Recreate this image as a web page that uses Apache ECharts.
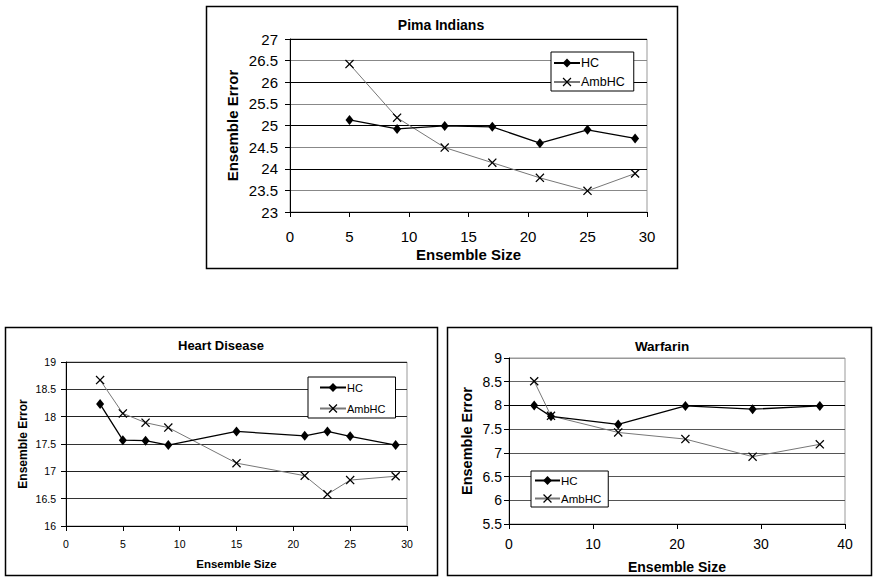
<!DOCTYPE html>
<html>
<head>
<meta charset="utf-8">
<script src="https://cdn.jsdelivr.net/npm/echarts@6/dist/echarts.min.js"></script>
<style>
  html, body { margin: 0; padding: 0; background: #fff; }
  #main { width: 873px; height: 577px; }
</style>
</head>
<body>
<div id="main"></div>
<script>
// Pima Indians
var pimaSizes = [5, 9, 13, 17, 21, 25, 29];
var pimaHC = [25.13, 24.92, 24.99, 24.97, 24.59, 24.9, 24.7];
var pimaAmbHC = [26.42, 25.18, 24.49, 24.14, 23.79, 23.49, 23.89];

// Heart Disease
var heartSizes = [3, 5, 7, 9, 15, 21, 23, 25, 29];
var heartHC = [18.23, 17.57, 17.56, 17.48, 17.73, 17.65, 17.73, 17.64, 17.48];
var heartAmbHC = [18.67, 18.06, 17.89, 17.8, 17.15, 16.92, 16.58, 16.84, 16.91];

// Warfarin
var warfSizes = [3, 5, 13, 21, 29, 37];
var warfHC = [8.0, 7.77, 7.6, 7.99, 7.92, 7.99];
var warfAmbHC = [8.51, 7.78, 7.43, 7.29, 6.92, 7.18];

var seriesNames = ['HC', 'AmbHC'];

var myChart = echarts.init(document.getElementById('main'), null, {renderer: 'svg'});

var FONT = 'Liberation Sans, Arial, sans-serif';
var CROSS = 'path://M0,1L1,0L5,4L9,0L10,1L6,5L10,9L9,10L5,6L1,10L0,9L4,5Z';

function pairs(xs, ys) {
    return xs.map(function (x, i) { return [x, ys[i]]; });
}

function xAx(idx, max, interval, fs, margin, nameFs, nameGap) {
    return {
        gridIndex: idx, type: 'value', min: 0, max: max, interval: interval,
        name: 'Ensemble Size', nameLocation: 'middle', nameGap: nameGap,
        nameTextStyle: {fontWeight: 'bold', fontSize: nameFs, color: '#000'},
        axisLine: {show: true, lineStyle: {color: '#000', width: 1}},
        axisTick: {show: true, inside: false, length: 5, lineStyle: {color: '#000'}},
        axisLabel: {color: '#000', fontSize: fs, margin: margin},
        splitLine: {show: false}
    };
}

function yAx(idx, min, max, fs, margin, nameFs, nameGap, gridColors) {
    return {
        gridIndex: idx, type: 'value', min: min, max: max, interval: 0.5,
        name: 'Ensemble Error', nameLocation: 'middle', nameGap: nameGap,
        nameTextStyle: {fontWeight: 'bold', fontSize: nameFs, color: '#000'},
        axisLine: {show: true, lineStyle: {color: '#000', width: 1}},
        axisTick: {show: true, inside: false, length: 5, lineStyle: {color: '#000'}},
        axisLabel: {color: '#000', fontSize: fs, margin: margin},
        splitLine: {show: true, lineStyle: {color: gridColors, width: 1}}
    };
}

function hcSeries(idx, xs, ys) {
    return {
        name: 'HC', type: 'line', xAxisIndex: idx, yAxisIndex: idx,
        data: pairs(xs, ys), symbol: 'diamond', symbolSize: [8, 10],
        itemStyle: {color: '#000'},
        lineStyle: {color: '#000', width: 1.3},
        animation: false, z: 4
    };
}

function ambSeries(idx, xs, ys) {
    return {
        name: 'AmbHC', type: 'line', xAxisIndex: idx, yAxisIndex: idx,
        data: pairs(xs, ys), symbol: CROSS, symbolSize: 9,
        itemStyle: {color: '#000'},
        lineStyle: {color: '#777', width: 1},
        animation: false, z: 3
    };
}

function legendBox(left, top, fs, lh, pad, gap, iw) {
    return {
        data: seriesNames, orient: 'vertical', left: left, top: top,
        padding: pad, itemGap: gap, itemWidth: iw, itemHeight: 11,
        backgroundColor: '#fff', borderColor: '#000', borderWidth: 1,
        textStyle: {color: '#000', fontSize: fs, lineHeight: lh, fontFamily: FONT, padding: [0, 0, 0, -4]},
        selectedMode: false
    };
}

function titleAt(text, cx, cy, fs) {
    return {
        text: text, left: cx, top: cy, padding: 0,
        textAlign: 'center', textVerticalAlign: 'middle',
        textStyle: {fontSize: fs, fontWeight: 'bold', color: '#000', fontFamily: FONT}
    };
}

var option = {
    backgroundColor: '#fff',
    animation: false,
    textStyle: {fontFamily: FONT},
    title: [
        titleAt('Pima Indians', 441, 25, 14),
        titleAt('Heart Disease', 221, 345, 13),
        titleAt('Warfarin', 662, 346, 13.5)
    ],
    graphic: [
        {type: 'rect', shape: {x: 206.5, y: 6.5, width: 471, height: 262}, style: {fill: null, stroke: '#000', lineWidth: 1.5}, z: 0},
        {type: 'rect', shape: {x: 5.5, y: 327.5, width: 432, height: 248}, style: {fill: null, stroke: '#000', lineWidth: 1.5}, z: 0},
        {type: 'rect', shape: {x: 447.5, y: 327.5, width: 424, height: 248}, style: {fill: null, stroke: '#000', lineWidth: 1.5}, z: 0}
    ],
    legend: [
        legendBox(551, 52, 12.5, 14, [4, 9, 2, 2], 5, 26),
        legendBox(308, 377, 11, 13, [4, 10, 3, 11], 8, 26),
        legendBox(531, 471, 11.5, 13, [3, 7, 2, 3], 5, 25)
    ],
    grid: [
        {left: 290, top: 39, width: 357, height: 173, show: true, borderColor: '#999', borderWidth: 1},
        {left: 66, top: 362, width: 341, height: 164, show: true, borderColor: '#999', borderWidth: 1},
        {left: 509, top: 358, width: 336, height: 166, show: true, borderColor: '#999', borderWidth: 1}
    ],
    xAxis: [
        xAx(0, 30, 5, 15, 17, 15, 35),
        xAx(1, 30, 5, 10.5, 12, 11.5, 32),
        xAx(2, 40, 10, 14, 13, 14, 36)
    ],
    yAxis: [
        yAx(0, 23, 27, 15, 12, 15, 50, ['#000', '#888']),
        yAx(1, 16, 19, 10.5, 10, 12, 37, ['#222', '#333']),
        yAx(2, 5.5, 9, 14, 7, 14.5, 35, ['#555', '#555', '#555', '#555', '#555', '#000', '#666', '#999'])
    ],
    series: [
        hcSeries(0, pimaSizes, pimaHC),
        ambSeries(0, pimaSizes, pimaAmbHC),
        hcSeries(1, heartSizes, heartHC),
        ambSeries(1, heartSizes, heartAmbHC),
        hcSeries(2, warfSizes, warfHC),
        ambSeries(2, warfSizes, warfAmbHC)
    ]
};

myChart.setOption(option);
window.onresize = myChart.resize;
</script>
</body>
</html>
